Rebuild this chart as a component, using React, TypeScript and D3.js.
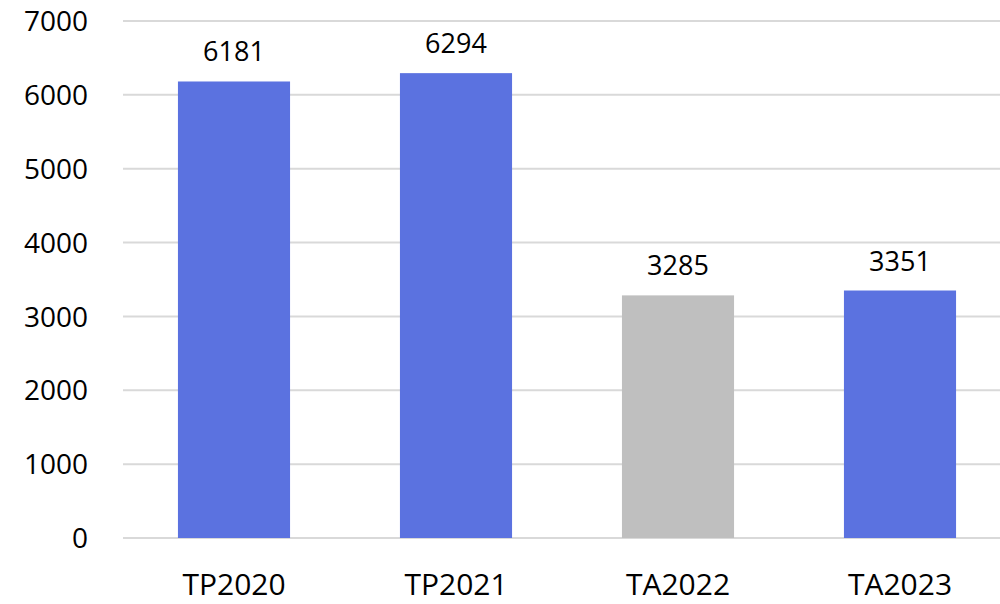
import React from "react";
import * as d3 from "d3";

const categories = ["TP2020", "TP2021", "TA2022", "TA2023"];
const values = [6181, 6294, 3285, 3351];
const barColors = ["#5B72E0", "#5B72E0", "#BFBFBF", "#5B72E0"];
const yTicks = [0, 1000, 2000, 3000, 4000, 5000, 6000, 7000];

const W = 1000;
const H = 604;
const left = 123;
const right = 1011;
const top = 21;
const bottom = 538;
const font = "'Open Sans', 'Noto Sans', sans-serif";

export default function App() {
  const x = d3.scaleBand<string>().domain(categories).range([left, right]).paddingInner(0.495).paddingOuter(0.2475);
  const y = d3.scaleLinear().domain([0, 7000]).range([bottom, top]);
  return (
    <svg width={W} height={H} style={{ position: "absolute", left: 0, top: 0, background: "#fff" }}>
      {yTicks.map((t) => (
        <g key={t}>
          <line x1={left} x2={W} y1={y(t)} y2={y(t)} stroke="#D9D9D9" strokeWidth={2} />
          <text x={88} y={y(t)} dy="0.36em" textAnchor="end" fontFamily={font} fontSize={28} fill="#000">
            {t}
          </text>
        </g>
      ))}
      {categories.map((c, i) => (
        <g key={c}>
          <rect x={x(c)} y={y(values[i])} width={x.bandwidth()} height={bottom - y(values[i])} fill={barColors[i]} />
          <text x={x(c)! + x.bandwidth() / 2} y={y(values[i]) - 20} textAnchor="middle" fontFamily={font} fontSize={27} fill="#000">
            {values[i]}
          </text>
          <text x={x(c)! + x.bandwidth() / 2} y={595} textAnchor="middle" fontFamily={font} fontSize={30} fill="#000">
            {c}
          </text>
        </g>
      ))}
    </svg>
  );
}
